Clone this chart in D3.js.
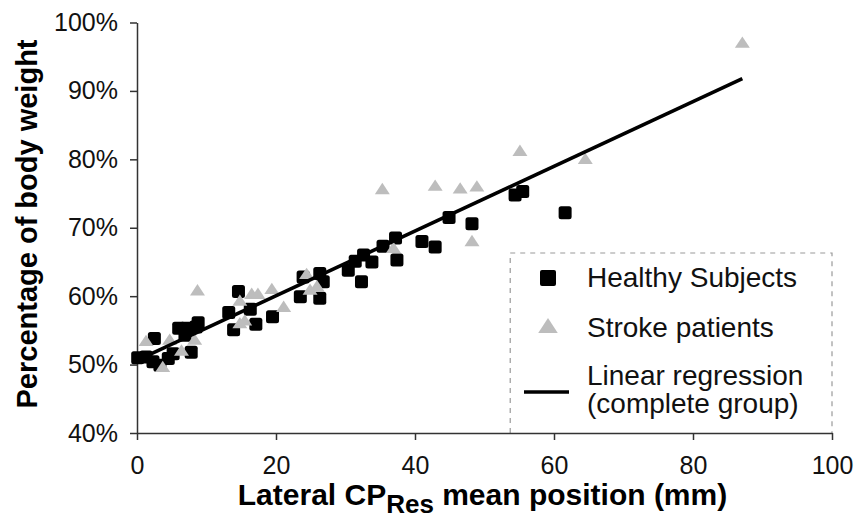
<!DOCTYPE html>
<html>
<head>
<meta charset="utf-8">
<script src="https://cdn.jsdelivr.net/npm/d3@7"></script>
<style>
  html, body { margin: 0; padding: 0; background: #fff; }
  svg { display: block; font-family: "Liberation Sans", Arial, sans-serif; }
</style>
</head>
<body>
<svg id="chart" width="856" height="519"></svg>
<script>
// ---- data ----
const healthyX = [0.1, 1.3, 2.3, 3.3, 2.5, 4.5, 5.2, 6.0, 7.1, 6.9, 7.8, 8.8, 8.5, 13.2, 13.9, 14.6, 16.3, 17.1, 19.5, 23.5, 23.9, 26.3, 26.8, 26.3, 30.4, 31.4, 32.3, 32.6, 33.8, 35.4, 37.2, 37.4, 41.0, 42.9, 44.9, 48.2, 54.4, 55.5, 61.6];
const healthyY = [51.0, 51.1, 50.4, 49.9, 53.8, 50.9, 51.6, 55.3, 55.3, 54.3, 51.8, 56.1, 55.5, 57.6, 55.1, 60.7, 58.1, 55.9, 57.0, 59.9, 62.8, 63.3, 62.1, 59.7, 63.8, 65.1, 62.1, 66.0, 65.0, 67.3, 68.5, 65.3, 68.0, 67.2, 71.5, 70.6, 74.8, 75.3, 72.2];
const strokeX = [1.3, 3.7, 4.7, 6.4, 8.3, 8.7, 14.8, 14.8, 15.5, 16.5, 17.4, 19.4, 21.1, 24.4, 24.9, 25.9, 35.3, 36.9, 42.9, 46.5, 48.9, 48.2, 55.1, 64.5, 87.1];
const strokeY = [53.4, 49.6, 53.6, 52.0, 53.6, 60.8, 59.3, 56.0, 56.4, 60.3, 60.3, 61.0, 58.4, 63.2, 60.9, 61.4, 75.6, 67.0, 76.1, 75.7, 76.0, 68.0, 81.2, 80.0, 97.0];
const regressionX = [0, 87.1];
const regressionY = [50.6, 91.8];
const xTicks = [0, 20, 40, 60, 80, 100];
const yTicks = [40, 50, 60, 70, 80, 90, 100];
const legendLabels = ["Healthy Subjects", "Stroke patients", "Linear regression", "(complete group)"];

// ---- layout ----
const svg = d3.select("#chart");
const mLeft = 137, mRight = 832, mTop = 22.5, mBottom = 433;
const x = d3.scaleLinear().domain([0, 100]).range([mLeft, mRight]);
const y = d3.scaleLinear().domain([40, 100]).range([mBottom, mTop]);
const axisColor = "#333";

// legend box (dashed) drawn under the data
const lg = svg.append("g");
lg.append("path")
  .attr("d", `M${x(53.7)},${mBottom} V253 H${mRight} V${mBottom}`)
  .attr("fill", "none").attr("stroke", "#9a9a9a").attr("stroke-width", 1.2)
  .attr("stroke-dasharray", "5,5");

// axes
const xAxis = svg.append("g").attr("transform", `translate(0,${mBottom})`)
  .call(d3.axisBottom(x).tickValues(xTicks).tickSize(7).tickSizeOuter(0).tickPadding(16).tickFormat(d3.format("d")));
const yAxis = svg.append("g").attr("transform", `translate(${mLeft},0)`)
  .call(d3.axisLeft(y).tickValues(yTicks).tickSize(7).tickSizeOuter(0).tickPadding(12).tickFormat(d => d + "%"));
[xAxis, yAxis].forEach(g => {
  g.select(".domain").attr("stroke", axisColor).attr("stroke-width", 1.5);
  g.selectAll(".tick line").attr("stroke", axisColor).attr("stroke-width", 1.5);
  g.selectAll(".tick text").attr("fill", "#111").style("font-size", "25px")
    .style("font-family", "'Liberation Sans', Arial, sans-serif");
});

// data marks
const healthy = healthyX.map((v, i) => [v, healthyY[i]]);
const stroke = strokeX.map((v, i) => [v, strokeY[i]]);
const sq = 13;
svg.append("g").selectAll("rect").data(healthy).join("rect")
  .attr("x", d => x(d[0]) - sq / 2).attr("y", d => y(d[1]) - sq / 2)
  .attr("width", sq).attr("height", sq).attr("rx", 2.5)
  .attr("fill", "#000");

const tri = d3.symbol().type(d3.symbolTriangle).size(88);
svg.append("g").selectAll("path").data(stroke).join("path")
  .attr("d", tri)
  .attr("transform", d => `translate(${x(d[0])},${y(d[1]) + 1}) scale(1.05,0.92)`)
  .attr("fill", "#bdbdbd");

// regression line
const reg = regressionX.map((v, i) => [v, regressionY[i]]);
svg.append("path").datum(reg)
  .attr("d", d3.line().x(d => x(d[0])).y(d => y(d[1])))
  .attr("stroke", "#000").attr("stroke-width", 3.6).attr("fill", "none");

// legend content
lg.append("rect").attr("x", 540).attr("y", 270).attr("width", 16).attr("height", 16).attr("rx", 2).attr("fill", "#000");
lg.append("path").attr("d", d3.symbol().type(d3.symbolTriangle).size(150))
  .attr("transform", "translate(548,328) scale(1.05,0.92)").attr("fill", "#bdbdbd");
lg.append("line").attr("x1", 524).attr("x2", 569).attr("y1", 392).attr("y2", 392)
  .attr("stroke", "#000").attr("stroke-width", 3.6);
const lt = [[287, legendLabels[0]], [337, legendLabels[1]], [385, legendLabels[2]], [413, legendLabels[3]]];
lg.selectAll("text").data(lt).join("text")
  .attr("x", 587).attr("y", d => d[0]).text(d => d[1])
  .style("font-size", "28px").attr("fill", "#111");

// axis titles
svg.append("text")
  .attr("transform", `translate(37,224) rotate(-90)`)
  .attr("text-anchor", "middle").style("font-size", "29px").style("font-weight", "bold")
  .attr("fill", "#000").text("Percentage of body weight");

const xt = svg.append("text").attr("x", (mLeft + mRight) / 2 - 2).attr("y", 505)
  .attr("text-anchor", "middle").style("font-size", "30px").style("font-weight", "bold").attr("fill", "#000");
xt.append("tspan").text("Lateral CP");
xt.append("tspan").attr("dy", 8).style("font-size", "26px").text("Res");
xt.append("tspan").attr("dy", -8).text(" mean position (mm)");
</script>
</body>
</html>
